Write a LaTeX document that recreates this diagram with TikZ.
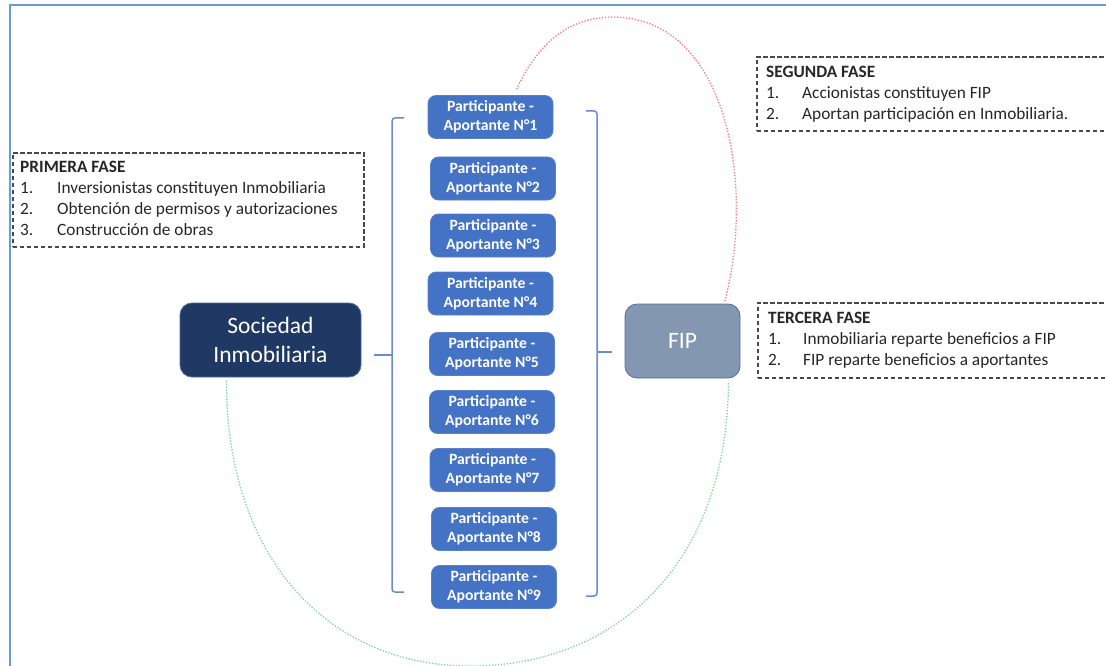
\documentclass[tikz,border=0pt]{standalone}
\usepackage{fontspec}
\setmainfont{Carlito}
\definecolor{framec}{HTML}{6A9BD8}
\definecolor{socfill}{HTML}{1F3864}
\definecolor{socline}{HTML}{4A6BA8}
\definecolor{fipfill}{HTML}{8497B0}
\definecolor{fipline}{HTML}{4F6FA8}
\definecolor{pfill}{HTML}{4472C4}
\definecolor{pline}{HTML}{5A80C8}
\definecolor{brk}{HTML}{6A8CCF}
\definecolor{dashc}{HTML}{484848}
\definecolor{txt}{HTML}{262626}
\definecolor{redc}{HTML}{FF7C80}
\definecolor{greenc}{HTML}{7ED89B}
\begin{document}
\begin{tikzpicture}[x=1pt,y=-1pt,
  partbox/.style={draw=pline, line width=0.8pt, fill=pfill, rounded corners=8pt,
    minimum width=125pt, minimum height=43pt, inner sep=0pt, text=white, align=center,
    font=\bfseries\fontsize{15.7}{19}\selectfont},
  bigbox/.style={line width=0.8pt, rounded corners=12pt, minimum height=74pt,
    inner sep=0pt, text=white, align=center, font=\fontsize{23.5}{29}\selectfont},
  phasebox/.style={draw=dashc, line width=1.7pt, dash pattern=on 4.5pt off 2.5pt,
    inner sep=0pt, anchor=north west},
  phasetext/.style={anchor=north west, inner sep=0pt, text=txt,
    font=\fontsize{17.3}{21}\selectfont},
  bracket/.style={draw=brk, line width=1.5pt, rounded corners=3pt},
  reddot/.style={draw=redc, line width=1.3pt, dash pattern=on 1.4pt off 1.6pt},
  greendot/.style={draw=greenc, line width=1.3pt, dash pattern=on 1.4pt off 1.6pt},
  framel/.style={draw=framec, line width=1.5pt}
]
\useasboundingbox (0,0) rectangle (1106,666);

% outer frame (top and left edges)
\draw[framel] (10,667) -- (10,5) -- (1107,5);

% phase boxes
\node[phasebox, minimum width=351pt, minimum height=94pt] (f1) at (12,152) {};
\node[phasetext] (f1t) at ([xshift=8pt,yshift=-6pt]f1.north west) {%
  \begin{tabular}{@{}p{37pt}@{}l@{}}
  \multicolumn{2}{@{}l@{}}{\textbf{PRIMERA FASE}}\\
  1. & Inversionistas constituyen Inmobiliaria\\
  2. & Obtención de permisos y autorizaciones\\
  3. & Construcción de obras
  \end{tabular}};

\node[phasebox, minimum width=350pt, minimum height=74pt] (f2) at (756,56) {};
\node[phasetext] (f2t) at ([xshift=10pt,yshift=-6.5pt]f2.north west) {%
  \begin{tabular}{@{}p{36pt}@{}l@{}}
  \multicolumn{2}{@{}l@{}}{\textbf{SEGUNDA FASE}}\\
  1. & Accionistas constituyen FIP\\
  2. & Aportan participación en Inmobiliaria.
  \end{tabular}};

\node[phasebox, minimum width=349pt, minimum height=75pt] (f3) at (757,302) {};
\node[phasetext] (f3t) at ([xshift=11pt,yshift=-6.5pt]f3.north west) {%
  \begin{tabular}{@{}p{35pt}@{}l@{}}
  \multicolumn{2}{@{}l@{}}{\textbf{TERCERA FASE}}\\
  1. & Inmobiliaria reparte beneficios a FIP\\
  2. & FIP reparte beneficios a aportantes
  \end{tabular}};

% main boxes
\node[bigbox, draw=socline, fill=socfill, minimum width=181pt] (soc) at (270.5,340) {Sociedad\\Inmobiliaria};
\node[bigbox, draw=fipline, fill=fipfill, minimum width=115pt] (fip) at (682.5,341) {FIP};

% participants
\node[partbox] (p1) at (490.5,117) {Participante -\\Aportante N°1};
\node[partbox] (p2) at (493,178.5) {Participante -\\Aportante N°2};
\node[partbox] (p3) at (493,235.5) {Participante -\\Aportante N°3};
\node[partbox] (p4) at (490.5,293.5) {Participante -\\Aportante N°4};
\node[partbox] (p5) at (492,354) {Participante -\\Aportante N°5};
\node[partbox] (p6) at (492,412) {Participante -\\Aportante N°6};
\node[partbox] (p7) at (492.5,470) {Participante -\\Aportante N°7};
\node[partbox] (p8) at (494,529) {Participante -\\Aportante N°8};
\node[partbox] (p9) at (494,587) {Participante -\\Aportante N°9};

% brackets
\coordinate (lbt) at (404,118);
\coordinate (lbb) at (404,592);
\coordinate (lbm) at (392,355);
\coordinate (rbt) at (586,111);
\coordinate (rbb) at (586,596);
\coordinate (rbm) at (597,352);
\draw[bracket] (lbt) -- (392,118) -- (392,592) -- (lbb);
\draw[bracket] (rbt) -- (597,111) -- (597,596) -- (rbb);
\draw[draw=brk, line width=1.5pt] ([xshift=13pt,yshift=-15pt]soc.east) -- (lbm);
\draw[draw=brk, line width=1.5pt] (rbm) -- ([xshift=-13pt,yshift=-11pt]fip.west);

% dotted curves
\coordinate (rtop) at (615,17);
\draw[reddot] ([xshift=26pt,yshift=6pt]p1.north) .. controls (540,40) and (570,17) .. (rtop)
  .. controls (730,20) and (755,190) .. ([xshift=-16pt,yshift=1pt]fip.north east);
\coordinate (gbot) at (470,666);
\draw[greendot] ([xshift=-44pt,yshift=-3pt]soc.south) .. controls (226,560) and (330,666) .. (gbot)
  .. controls (620,666) and (728,560) .. ([xshift=-12pt,yshift=-3pt]fip.south east);
\end{tikzpicture}
\end{document}
